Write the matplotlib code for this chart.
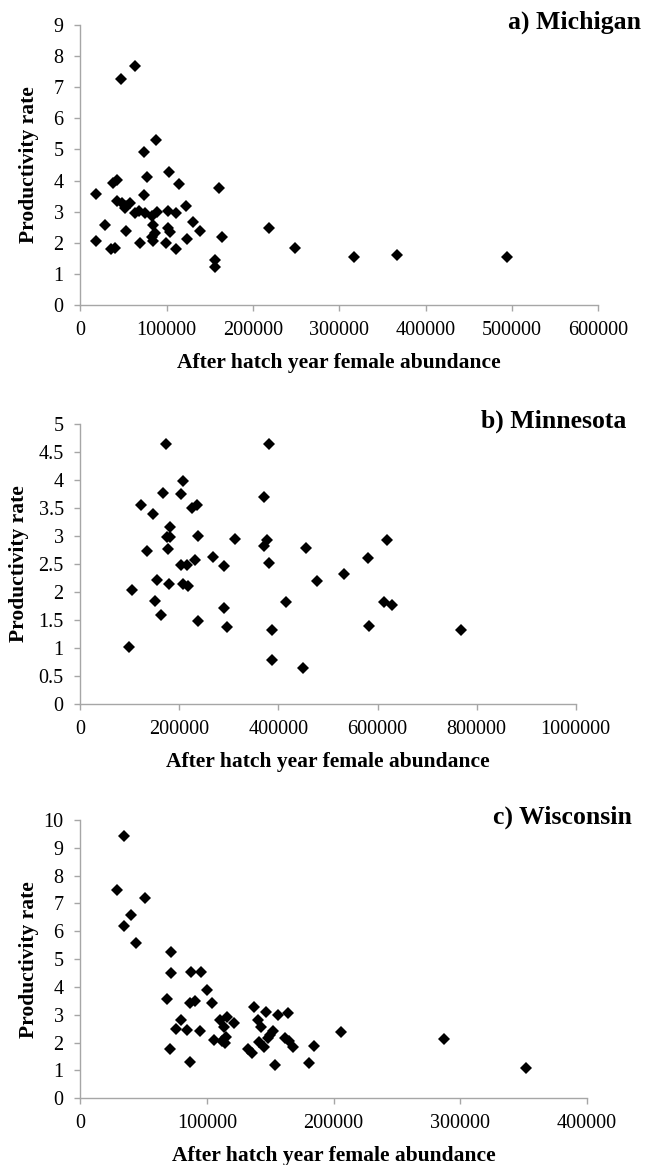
import matplotlib
matplotlib.use('Agg')
import matplotlib.pyplot as plt

# Michigan
mi_x = [18100, 18100, 29000, 35500, 40500, 38200, 42900, 46700, 63300, 42900,
        47900, 53000, 53000, 57500, 51700, 63300, 68300, 69100, 73700, 74100,
        76800, 74900, 82600, 84600, 82600, 84600, 87600, 88400, 86500, 98800,
        101900, 103100, 101900, 103900, 110800, 110800, 114300, 122400, 123900, 130900,
        138600, 156000, 156000, 160600, 163700, 218500, 248600, 317000, 366600, 494000]
mi_y = [2.07, 3.56, 2.56, 1.79, 1.83, 3.91, 4.02, 7.27, 7.68, 3.33,
        3.27, 3.18, 2.39, 3.29, 3.11, 2.97, 3.03, 2.00, 4.93, 3.54,
        4.13, 2.97, 2.86, 2.56, 2.20, 2.07, 5.31, 2.99, 2.30, 2.00,
        3.03, 4.27, 2.47, 2.34, 2.95, 1.79, 3.89, 3.18, 2.11, 2.68,
        2.39, 1.45, 1.23, 3.75, 2.18, 2.47, 1.83, 1.53, 1.61, 1.55]

# Minnesota
mn_x = [98300, 105000, 122600, 134000, 147500, 150800, 154200, 163600, 172400, 166300,
        175000, 181000, 181100, 177800, 179800, 202700, 203400, 208100, 208100, 216200,
        216800, 224900, 235000, 231600, 237000, 237000, 267300, 290200, 290200, 295600,
        312500, 371700, 371700, 376400, 381800, 380500, 387900, 386500, 415500, 450500,
        456000, 477400, 532700, 580600, 619000, 612200, 629100, 581800, 768500]
mn_y = [1.01, 2.04, 3.56, 2.74, 3.40, 1.84, 2.21, 1.59, 4.64, 3.77,
        2.98, 2.98, 3.16, 2.76, 2.14, 2.49, 3.75, 3.99, 2.15, 2.49,
        2.11, 3.50, 3.55, 2.58, 3.00, 1.49, 2.63, 2.47, 1.71, 1.37,
        2.94, 3.69, 2.83, 2.92, 4.64, 2.51, 1.32, 0.79, 1.83, 0.64,
        2.79, 2.20, 2.33, 2.61, 2.92, 1.82, 1.77, 1.40, 1.33]

# Wisconsin
wi_x = [29100, 34600, 34400, 39900, 51400, 43800, 68800, 71900, 71400, 70600,
        79800, 75300, 84500, 86400, 87700, 86400, 90300, 94200, 95500, 100300,
        104200, 105500, 110000, 111800, 113900, 116000, 114400, 115200, 121800, 132300,
        135400, 137500, 140200, 141500, 142800, 145400, 146700, 148000, 149900, 152000,
        154100, 155900, 163800, 161900, 164600, 167700, 180800, 184800, 206100, 287600,
        352000]
wi_y = [7.49, 9.44, 6.19, 6.59, 7.21, 5.59, 3.56, 5.27, 4.49, 1.76,
        2.81, 2.48, 2.46, 1.29, 4.55, 3.41, 3.51, 2.43, 4.55, 3.89,
        3.41, 2.10, 2.81, 2.07, 2.57, 2.93, 1.98, 2.22, 2.69, 1.77,
        1.62, 3.29, 2.81, 2.04, 2.57, 1.86, 3.11, 2.16, 2.28, 2.43,
        1.20, 2.99, 3.05, 2.16, 2.07, 1.86, 1.26, 1.88, 2.37, 2.13,
        1.08]

titles = ['a) Michigan', 'b) Minnesota', 'c) Wisconsin']
x_ticks = [list(range(0, 600001, 100000)), list(range(0, 1000001, 200000)),
           list(range(0, 400001, 100000))]
y_ticks = [list(range(0, 10)), [0, 0.5, 1, 1.5, 2, 2.5, 3, 3.5, 4, 4.5, 5],
           list(range(0, 11))]
y_ticklabels = [[str(v) for v in y_ticks[0]],
                ['0', '0.5', '1', '1.5', '2', '2.5', '3', '3.5', '4', '4.5', '5'],
                [str(v) for v in y_ticks[2]]]

W, H = 646, 1165
plt.rcParams['font.family'] = ['Liberation Serif', 'DejaVu Serif']
fig = plt.figure(figsize=(W / 100, H / 100), dpi=100)

# axes boxes in pixels: left, right, top, bottom
boxes = [(80.3, 598.3, 25, 305), (80.3, 575.7, 424, 704), (80.3, 586.7, 820, 1098.3)]
title_pos = [(641, 22), (626, 421.5), (632, 817.5)]
ylabel_x = [29, 19.5, 29]   # pixel centre of the y label
data = [(mi_x, mi_y), (mn_x, mn_y), (wi_x, wi_y)]
spine_col = '#a6a6a6'

for i, ((l, r, t, b), (xs, ys)) in enumerate(zip(boxes, data)):
    ax = fig.add_axes([l / W, 1 - b / H, (r - l) / W, (b - t) / H])
    ax.plot(xs, ys, linestyle='none', marker='D', ms=6.2, color='black', mec='black', mew=0)
    ax.set_xlim(x_ticks[i][0], x_ticks[i][-1])
    ax.set_ylim(y_ticks[i][0], y_ticks[i][-1])
    ax.set_xticks(x_ticks[i])
    ax.set_xticklabels([str(v) for v in x_ticks[i]])
    ax.set_yticks(y_ticks[i])
    ax.set_yticklabels(y_ticklabels[i])
    for s in ['top', 'right']:
        ax.spines[s].set_visible(False)
    for s in ['left', 'bottom']:
        ax.spines[s].set_color(spine_col)
        ax.spines[s].set_linewidth(1.0)
    ax.tick_params(axis='both', direction='out', length=4.5, width=1.0, color=spine_col,
                   labelsize=14.5, labelcolor='black')
    ax.tick_params(axis='x', pad=7)
    ax.tick_params(axis='y', pad=7.5)
    ax.set_xlabel('After hatch year female abundance', fontsize=15.5, fontweight='bold', labelpad=9.5)
    ax.set_ylabel('Productivity rate', fontsize=15.5, fontweight='bold')
    ax.yaxis.set_label_coords((ylabel_x[i] - l) / (r - l), 0.5)
    ax.yaxis.label.set_verticalalignment('center')
    fig.text(title_pos[i][0] / W, 1 - title_pos[i][1] / H, titles[i], ha='right', va='center',
             fontsize=18.5, fontweight='bold')

fig.savefig('out.png', dpi=100)
